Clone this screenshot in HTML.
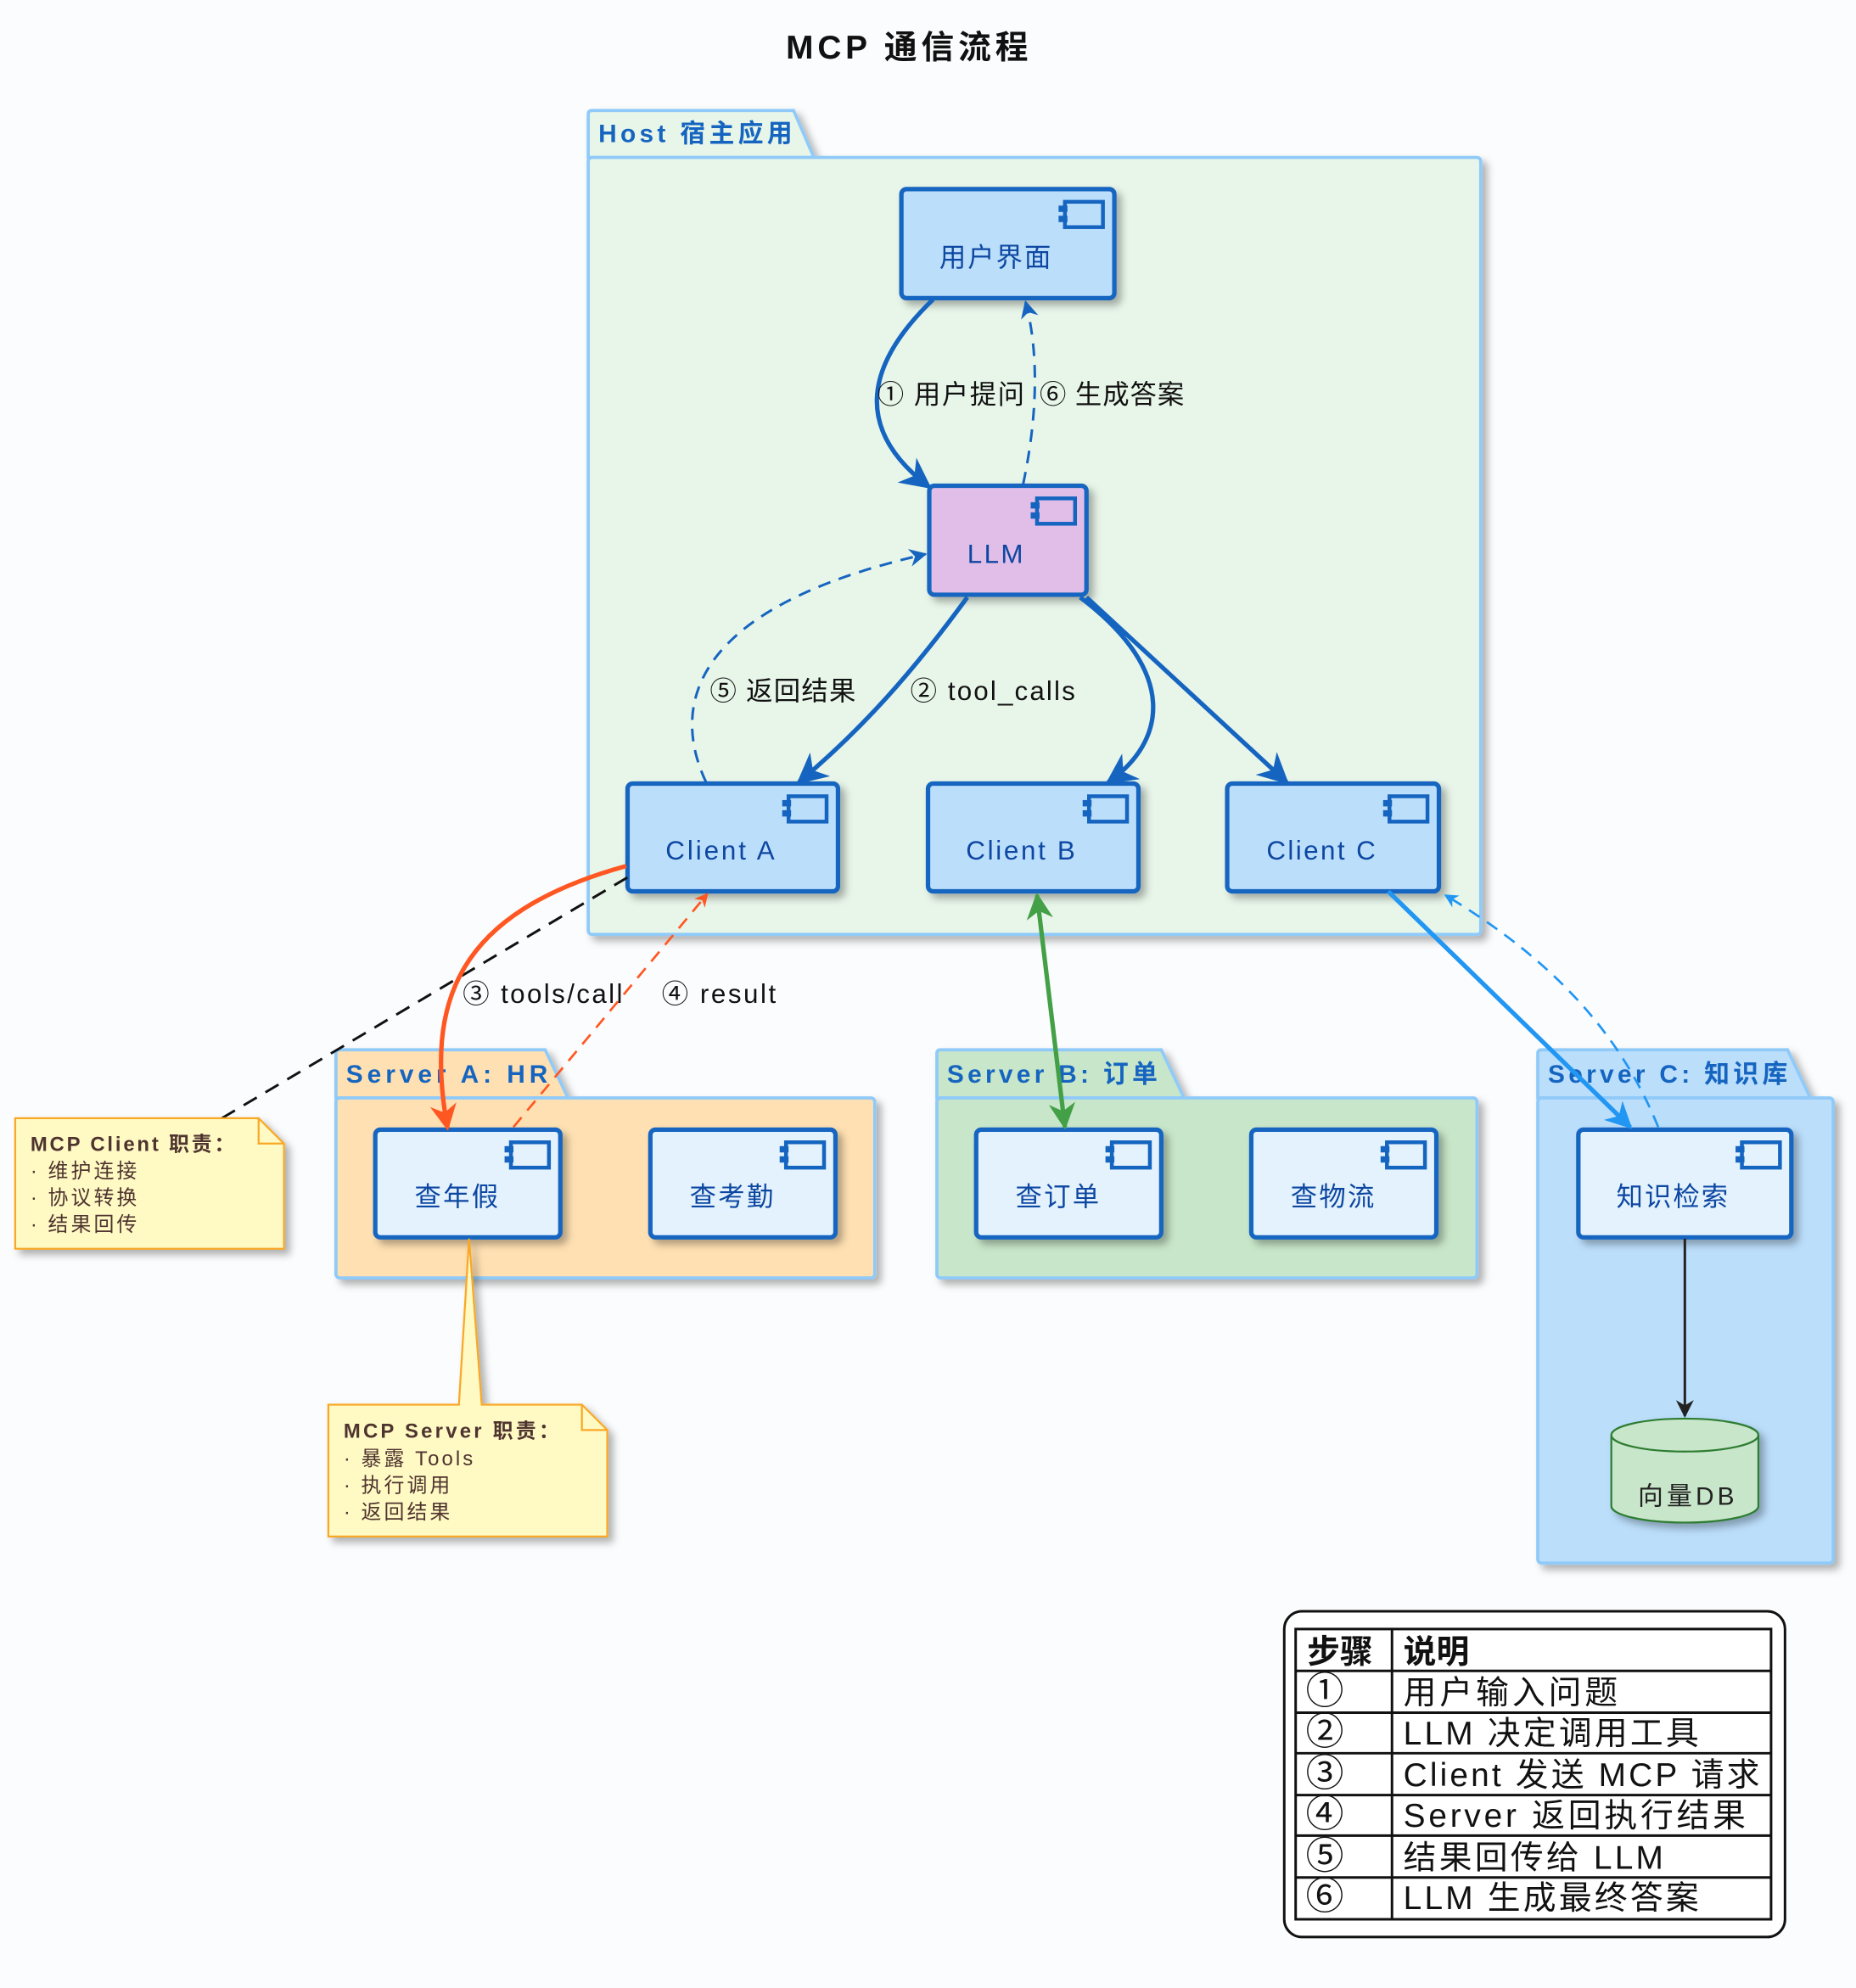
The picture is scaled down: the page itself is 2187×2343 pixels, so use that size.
<!DOCTYPE html>
<html><head><meta charset="utf-8"><style>
html,body{margin:0;padding:0;background:#fbfcfd;}
svg{display:block;}
text{font-family:"Liberation Sans","Noto Sans CJK SC",sans-serif;}
</style></head><body>
<svg width="2187" height="2343" viewBox="0 0 1464 1568" xmlns="http://www.w3.org/2000/svg">
<defs>
<filter id="sh" x="-10%" y="-10%" width="130%" height="130%"><feDropShadow dx="4" dy="4" stdDeviation="3" flood-color="#000" flood-opacity="0.3"/></filter>
<g id="icon"><rect x="0" y="0" width="30" height="20" fill="none" stroke="#1565c0" stroke-width="3"/><rect x="-5" y="3" width="7" height="5" fill="#1565c0"/><rect x="-5" y="11" width="7" height="5" fill="#1565c0"/></g>
<marker id="ab" viewBox="0 0 10 10" refX="9" refY="5" markerWidth="7" markerHeight="7" orient="auto-start-reverse"><path d="M0,0 L10,5 L0,10 L3,5 z" fill="#1565c0"/></marker>
<marker id="ao" viewBox="0 0 10 10" refX="9" refY="5" markerWidth="6" markerHeight="6" orient="auto-start-reverse"><path d="M0,0 L10,5 L0,10 L3,5 z" fill="#ff5722"/></marker>
<marker id="ag" viewBox="0 0 10 10" refX="9" refY="5" markerWidth="6" markerHeight="6" orient="auto-start-reverse"><path d="M0,0 L10,5 L0,10 L3,5 z" fill="#43a047"/></marker>
<marker id="al" viewBox="0 0 10 10" refX="9" refY="5" markerWidth="6" markerHeight="6" orient="auto-start-reverse"><path d="M0,0 L10,5 L0,10 L3,5 z" fill="#2196f3"/></marker>
<marker id="ak" viewBox="0 0 10 10" refX="9" refY="5" markerWidth="7" markerHeight="7" orient="auto"><path d="M0,0 L10,5 L0,10 L3,5 z" fill="#222"/></marker>
</defs>
<rect width="1464" height="1568" fill="#fbfcfd"/>
<text x="620" y="46" textLength="191" lengthAdjust="spacing" font-size="26" font-weight="bold" fill="#111">MCP 通信流程</text>

<g filter="url(#sh)">
<path d="M464,124 L464,90 Q464,87 467,87 L626,87 L642,124 Z" fill="#e8f5e9" stroke="#90caf9" stroke-width="2.5"/>
<rect x="464" y="124" width="704" height="613" rx="3" fill="#e8f5e9" stroke="#90caf9" stroke-width="2.5"/>
</g>
<text x="472" y="112" textLength="153" lengthAdjust="spacing" font-size="20" font-weight="bold" fill="#1565c0">Host 宿主应用</text>

<g filter="url(#sh)">
<path d="M265,866 L265,831 Q265,828 268,828 L430,828 L448,866 Z" fill="#ffe0b2" stroke="#90caf9" stroke-width="2.5"/>
<rect x="265" y="866" width="425" height="142" rx="3" fill="#ffe0b2" stroke="#90caf9" stroke-width="2.5"/>
</g>
<text x="273" y="854" textLength="159" lengthAdjust="spacing" font-size="20" font-weight="bold" fill="#1565c0">Server A: HR</text>

<g filter="url(#sh)">
<path d="M739,866 L739,831 Q739,828 742,828 L916,828 L934,866 Z" fill="#c8e6c9" stroke="#90caf9" stroke-width="2.5"/>
<rect x="739" y="866" width="426" height="142" rx="3" fill="#c8e6c9" stroke="#90caf9" stroke-width="2.5"/>
</g>
<text x="747" y="854" textLength="166" lengthAdjust="spacing" font-size="20" font-weight="bold" fill="#1565c0">Server B: 订单</text>

<g filter="url(#sh)">
<path d="M1213,866 L1213,831 Q1213,828 1216,828 L1410,828 L1428,866 Z" fill="#bbdefb" stroke="#90caf9" stroke-width="2.5"/>
<rect x="1213" y="866" width="233" height="367" rx="3" fill="#bbdefb" stroke="#90caf9" stroke-width="2.5"/>
</g>
<text x="1221" y="854" textLength="189" lengthAdjust="spacing" font-size="20" font-weight="bold" fill="#1565c0">Server C: 知识库</text>

<g filter="url(#sh)" stroke="#1565c0" stroke-width="3.5">
<rect x="711" y="149" width="168" height="86" rx="4" fill="#bbdefb"/>
<rect x="733" y="383" width="124" height="86" rx="4" fill="#e1bee7"/>
<rect x="495" y="618" width="166" height="85" rx="4" fill="#bbdefb"/>
<rect x="732" y="618" width="166" height="85" rx="4" fill="#bbdefb"/>
<rect x="968" y="618" width="167" height="85" rx="4" fill="#bbdefb"/>
<rect x="296" y="891" width="146" height="85" rx="4" fill="#e3f2fd"/>
<rect x="513" y="891" width="146" height="85" rx="4" fill="#e3f2fd"/>
<rect x="770" y="891" width="146" height="85" rx="4" fill="#e3f2fd"/>
<rect x="987" y="891" width="146" height="85" rx="4" fill="#e3f2fd"/>
<rect x="1245" y="891" width="168" height="85" rx="4" fill="#e3f2fd"/>
</g>
<use href="#icon" x="840" y="159"/>
<use href="#icon" x="818" y="393"/>
<use href="#icon" x="622" y="628"/>
<use href="#icon" x="859" y="628"/>
<use href="#icon" x="1096" y="628"/>
<use href="#icon" x="403" y="901"/>
<use href="#icon" x="620" y="901"/>
<use href="#icon" x="877" y="901"/>
<use href="#icon" x="1094" y="901"/>
<use href="#icon" x="1374" y="901"/>
<g font-size="21" fill="#0d47a1">
<text x="741" y="210" textLength="88" lengthAdjust="spacing">用户界面</text>
<text x="763" y="444" textLength="44" lengthAdjust="spacing">LLM</text>
<text x="525" y="678" textLength="86" lengthAdjust="spacing">Client A</text>
<text x="762" y="678" textLength="86" lengthAdjust="spacing">Client B</text>
<text x="999" y="678" textLength="86" lengthAdjust="spacing">Client C</text>
<text x="327" y="951" textLength="66" lengthAdjust="spacing">查年假</text>
<text x="544" y="951" textLength="66" lengthAdjust="spacing">查考勤</text>
<text x="801" y="951" textLength="66" lengthAdjust="spacing">查订单</text>
<text x="1018" y="951" textLength="66" lengthAdjust="spacing">查物流</text>
<text x="1275" y="951" textLength="88" lengthAdjust="spacing">知识检索</text>
</g>

<g filter="url(#sh)">
<path d="M1271,1132 L1271,1188 A58,13 0 0 0 1387,1188 L1387,1132 A58,13 0 0 0 1271,1132 Z" fill="#c8e6c9" stroke="#2e7d32" stroke-width="1.5"/>
<path d="M1271,1132 A58,13 0 0 0 1387,1132" fill="none" stroke="#2e7d32" stroke-width="1.5"/>
</g>
<text x="1292" y="1187" textLength="76" lengthAdjust="spacing" font-size="20" fill="#222">向量DB</text>
<line x1="1329" y1="977" x2="1329" y2="1117" stroke="#222" stroke-width="2" marker-end="url(#ak)"/>

<line x1="175" y1="882" x2="495" y2="692" stroke="#111" stroke-width="2" stroke-dasharray="12,8"/>
<g filter="url(#sh)">
<path d="M12,882 L204,882 L224,902 L224,985 L12,985 Z" fill="#fff9c4" stroke="#f9a825" stroke-width="1.5"/>
<path d="M204,882 L204,902 L224,902" fill="none" stroke="#f9a825" stroke-width="1.5"/>
</g>
<g font-size="16" fill="#4e342e">
<text x="24" y="908" font-weight="bold" textLength="161" lengthAdjust="spacing">MCP Client 职责：</text>
<text x="24" y="929" textLength="84" lengthAdjust="spacing">· 维护连接</text>
<text x="24" y="950" textLength="84" lengthAdjust="spacing">· 协议转换</text>
<text x="24" y="971" textLength="84" lengthAdjust="spacing">· 结果回传</text>
</g>
<g filter="url(#sh)">
<path d="M259,1108 L362,1108 L370,977 L380,1108 L459,1108 L479,1128 L479,1212 L259,1212 Z" fill="#fff9c4" stroke="#f9a825" stroke-width="1.5"/>
<path d="M459,1108 L459,1128 L479,1128" fill="none" stroke="#f9a825" stroke-width="1.5"/>
</g>
<g font-size="16" fill="#4e342e">
<text x="271" y="1134" font-weight="bold" textLength="170" lengthAdjust="spacing">MCP Server 职责：</text>
<text x="271" y="1156" textLength="102" lengthAdjust="spacing">· 暴露 Tools</text>
<text x="271" y="1177" textLength="84" lengthAdjust="spacing">· 执行调用</text>
<text x="271" y="1198" textLength="84" lengthAdjust="spacing">· 返回结果</text>
</g>

<g fill="none">
<path d="M736,236 C680,290 675,340 733,384" stroke="#1565c0" stroke-width="3.5" marker-end="url(#ab)"/>
<path d="M807,382 C818,330 820,280 809,238" stroke="#1565c0" stroke-width="2" stroke-dasharray="10,7" marker-end="url(#ab)"/>
<path d="M763,471 C720,530 680,575 630,617" stroke="#1565c0" stroke-width="3.5" marker-end="url(#ab)"/>
<path d="M852,471 C930,530 920,585 874,617" stroke="#1565c0" stroke-width="3.5" marker-end="url(#ab)"/>
<path d="M857,471 L1015,617" stroke="#1565c0" stroke-width="3.5" marker-end="url(#ab)"/>
<path d="M557,617 C530,560 540,480 730,437" stroke="#1565c0" stroke-width="2" stroke-dasharray="10,7" marker-end="url(#ab)"/>
<path d="M494,683 C360,720 335,790 353,890" stroke="#ff5722" stroke-width="3.5" marker-end="url(#ao)"/>
<path d="M405,889 L558,705" stroke="#ff5722" stroke-width="1.8" stroke-dasharray="10,7" marker-end="url(#ao)"/>
<path d="M818,706 L840,889" stroke="#43a047" stroke-width="3.5" marker-start="url(#ag)" marker-end="url(#ag)"/>
<path d="M1095,703 L1286,889" stroke="#2196f3" stroke-width="3.5" marker-end="url(#al)"/>
<path d="M1308,889 C1280,820 1230,760 1140,706" stroke="#2196f3" stroke-width="1.8" stroke-dasharray="10,7" marker-end="url(#al)"/>
</g>
<g font-size="21" fill="#111">
<text x="692" y="318" textLength="116" lengthAdjust="spacing">① 用户提问</text>
<text x="820" y="318" textLength="114" lengthAdjust="spacing">⑥ 生成答案</text>
<text x="560" y="552" textLength="115" lengthAdjust="spacing">⑤ 返回结果</text>
<text x="718" y="552" textLength="130" lengthAdjust="spacing">② tool_calls</text>
<text x="365" y="791" textLength="126" lengthAdjust="spacing">③ tools/call</text>
<text x="522" y="791" textLength="90" lengthAdjust="spacing">④ result</text>
</g>

<rect x="1013" y="1271" width="395" height="257" rx="14" fill="#fff" stroke="#111" stroke-width="2"/>
<g stroke="#111" stroke-width="2" fill="none">
<rect x="1022" y="1285" width="375" height="229"/>
<line x1="1098" y1="1285" x2="1098" y2="1514"/>
<line x1="1022" y1="1318" x2="1397" y2="1318"/>
<line x1="1022" y1="1351" x2="1397" y2="1351"/>
<line x1="1022" y1="1383" x2="1397" y2="1383"/>
<line x1="1022" y1="1416" x2="1397" y2="1416"/>
<line x1="1022" y1="1448" x2="1397" y2="1448"/>
<line x1="1022" y1="1481" x2="1397" y2="1481"/>
</g>
<g font-size="26" fill="#111">
<text x="1031" y="1312" font-weight="bold">步骤</text>
<text x="1107" y="1312" font-weight="bold">说明</text>
<text x="1030" y="1344" font-size="30">①</text><text x="1107" y="1344" textLength="169" lengthAdjust="spacing">用户输入问题</text>
<text x="1030" y="1376" font-size="30">②</text><text x="1107" y="1376" textLength="233" lengthAdjust="spacing">LLM 决定调用工具</text>
<text x="1030" y="1409" font-size="30">③</text><text x="1107" y="1409" textLength="281" lengthAdjust="spacing">Client 发送 MCP 请求</text>
<text x="1030" y="1441" font-size="30">④</text><text x="1107" y="1441" textLength="270" lengthAdjust="spacing">Server 返回执行结果</text>
<text x="1030" y="1474" font-size="30">⑤</text><text x="1107" y="1474" textLength="205" lengthAdjust="spacing">结果回传给 LLM</text>
<text x="1030" y="1506" font-size="30">⑥</text><text x="1107" y="1506" textLength="233" lengthAdjust="spacing">LLM 生成最终答案</text>
</g>
</svg>
</body></html>
